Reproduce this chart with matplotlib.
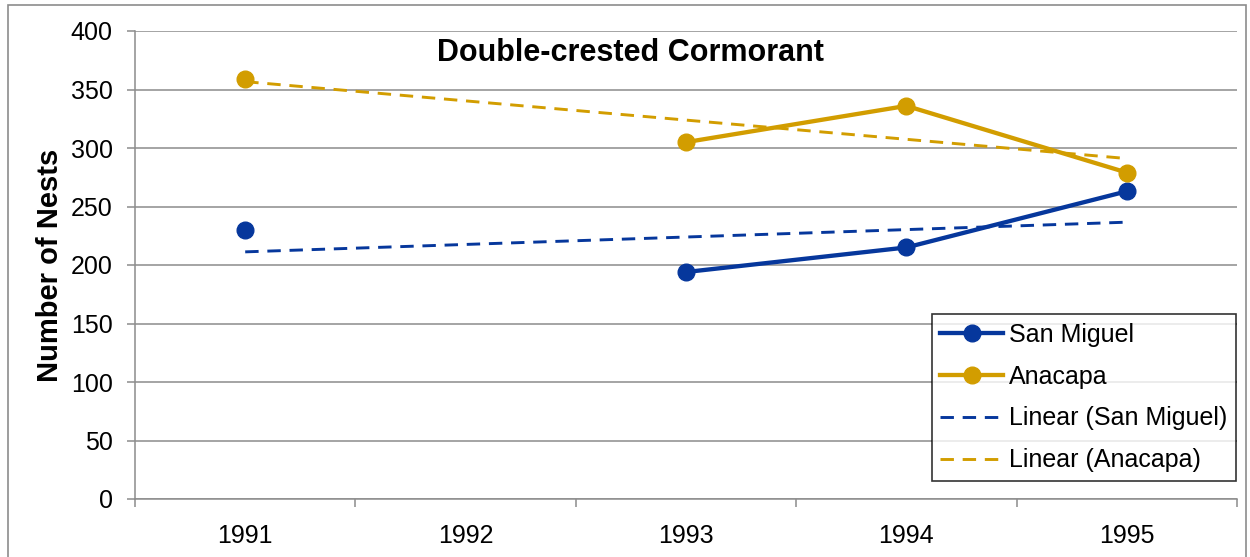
import numpy as np
import matplotlib
matplotlib.use("Agg")
import matplotlib.pyplot as plt
from matplotlib.patches import Rectangle

plt.rcParams['font.family'] = ['Liberation Sans', 'DejaVu Sans']

years = ["1991", "1992", "1993", "1994", "1995"]
san_miguel = [230, np.nan, 194, 215, 263]
anacapa = [359, np.nan, 305, 336, 279]
yticks = [0, 50, 100, 150, 200, 250, 300, 350, 400]

blue = "#06379c"
gold = "#d29d00"
grid_c = "#8c8c8c"

W, H = 1250, 557
fig = plt.figure(figsize=(W / 100, H / 100), dpi=100)
ax = fig.add_axes([135 / W, 1 - 499 / H, (1237 - 135) / W, (499 - 31) / H])

x = np.arange(len(years))

def trend(vals):
    v = np.array(vals, dtype=float)
    m = ~np.isnan(v)
    # Excel line-chart trendline: x = category index, gaps skipped
    xi = x[m] + 1
    p = np.polyfit(xi, v[m], 1)
    return np.polyval(p, x + 1)

ax.plot(x, san_miguel, color=blue, lw=3.1, marker="o", ms=12, label="San Miguel", zorder=4)
ax.plot(x, anacapa, color=gold, lw=3.1, marker="o", ms=12, label="Anacapa", zorder=4)
ax.plot(x, trend(san_miguel), color=blue, lw=2.1, ls=(0, (4.6, 3.0)), label="Linear (San Miguel)", zorder=3)
ax.plot(x, trend(anacapa), color=gold, lw=2.1, ls=(0, (4.6, 3.0)), label="Linear (Anacapa)", zorder=3)

ax.set_xlim(-0.5, len(years) - 0.5)
ax.set_ylim(0, 400)
ax.set_yticks(yticks)
ax.set_yticklabels([str(t) for t in yticks], fontsize=18)
ax.yaxis.grid(True, color=grid_c, lw=1.1)
ax.set_axisbelow(True)
ax.set_xticks(x)
ax.set_xticklabels(years, fontsize=18)
ax.set_xticks(np.arange(-0.5, len(years)), minor=True)
ax.tick_params(axis='x', which='major', length=0, pad=18)
ax.tick_params(axis='x', which='minor', length=6, width=1.1, color=grid_c)
ax.tick_params(axis='y', length=6, width=1.1, color=grid_c, pad=10)

for s in ['top', 'right']:
    ax.spines[s].set_visible(False)
for s in ['left', 'bottom']:
    ax.spines[s].set_color(grid_c)
    ax.spines[s].set_linewidth(1.1)

ax.set_ylabel("Number of Nests", fontsize=21, fontweight='bold', labelpad=5)

fig.text(630 / W, 1 - 53 / H, "Double-crested Cormorant", fontsize=22, fontweight='bold',
         ha='center', va='center')

leg = ax.legend(loc='lower right', bbox_to_anchor=(1236 / W, 1 - 481 / H),
                bbox_transform=fig.transFigure, fontsize=18, frameon=True, fancybox=False,
                edgecolor='black', handlelength=2.5, handletextpad=0.25, labelspacing=0.71,
                borderpad=0.35, borderaxespad=0)
leg.get_frame().set_linewidth(1.2)

fig.patches.append(Rectangle((8 / W, -0.01), (1246 - 8) / W, 1.01 - 5 / H,
                             transform=fig.transFigure, fill=False, edgecolor=grid_c, lw=1.2))

fig.savefig("out.png", dpi=100)
